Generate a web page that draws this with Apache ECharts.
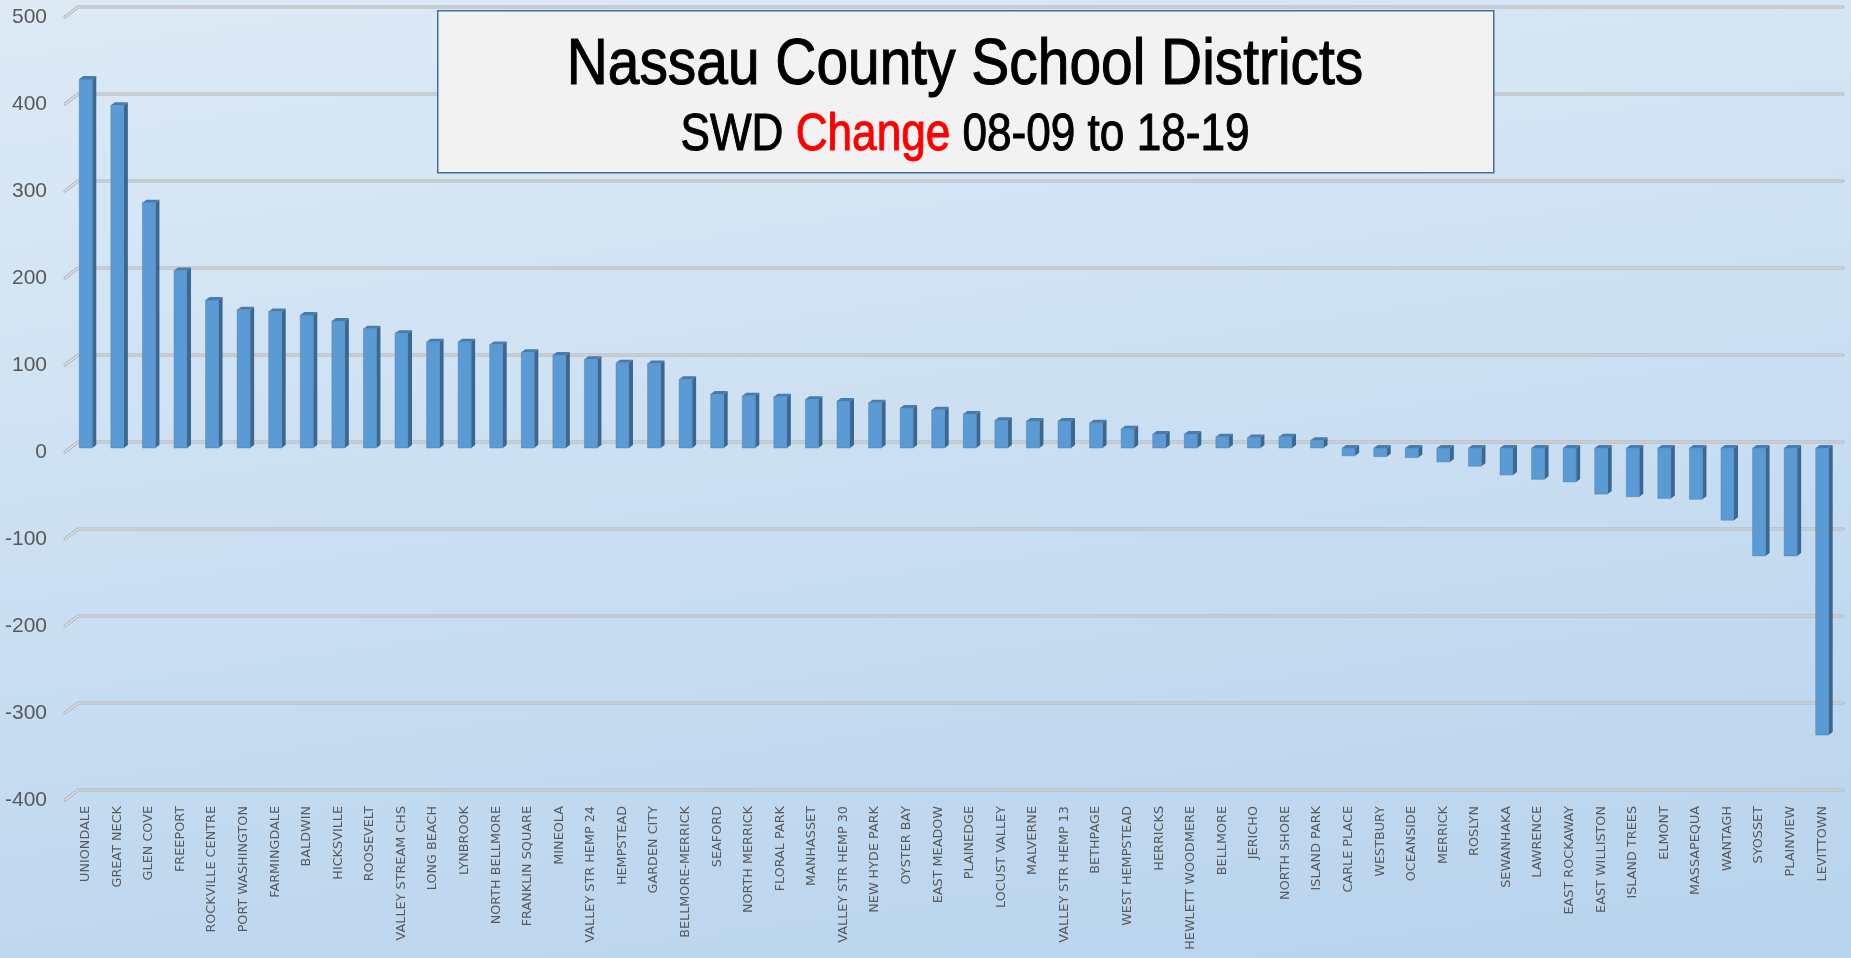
<!DOCTYPE html>
<html>
<head>
<meta charset="utf-8">
<title>Nassau County School Districts</title>
<script src="https://cdn.jsdelivr.net/npm/echarts@6/dist/echarts.min.js"></script>
<style>
html, body { margin: 0; padding: 0; }
#chart {
	width: 1851px;
	height: 958px;
	background: linear-gradient(172deg, #DDEAF6 0%, #CCE0F2 45%, #B7D3ED 100%);
}
</style>
</head>
<body>
<div id="chart"></div>
<script>
// districts, sorted by change
var districts = ['UNIONDALE', 'GREAT NECK', 'GLEN COVE', 'FREEPORT', 'ROCKVILLE CENTRE', 'PORT WASHINGTON',
	'FARMINGDALE', 'BALDWIN', 'HICKSVILLE', 'ROOSEVELT', 'VALLEY STREAM CHS', 'LONG BEACH', 'LYNBROOK',
	'NORTH BELLMORE', 'FRANKLIN SQUARE', 'MINEOLA', 'VALLEY STR HEMP 24', 'HEMPSTEAD', 'GARDEN CITY',
	'BELLMORE-MERRICK', 'SEAFORD', 'NORTH MERRICK', 'FLORAL PARK', 'MANHASSET', 'VALLEY STR HEMP 30',
	'NEW HYDE PARK', 'OYSTER BAY', 'EAST MEADOW', 'PLAINEDGE', 'LOCUST VALLEY', 'MALVERNE',
	'VALLEY STR HEMP 13', 'BETHPAGE', 'WEST HEMPSTEAD', 'HERRICKS', 'HEWLETT WOODMERE', 'BELLMORE',
	'JERICHO', 'NORTH SHORE', 'ISLAND PARK', 'CARLE PLACE', 'WESTBURY', 'OCEANSIDE', 'MERRICK', 'ROSLYN',
	'SEWANHAKA', 'LAWRENCE', 'EAST ROCKAWAY', 'EAST WILLISTON', 'ISLAND TREES', 'ELMONT', 'MASSAPEQUA',
	'WANTAGH', 'SYOSSET', 'PLAINVIEW', 'LEVITTOWN'];
// SWD change 08-09 to 18-19
var swdChange = [424, 394, 282, 204, 170, 159, 157, 153, 146, 137, 132, 122, 122,
	119, 110, 107, 102, 98, 97,
	79, 62, 60, 59, 56, 54,
	52, 46, 44, 39, 32, 31,
	31, 29, 22, 16, 16, 13,
	12, 13, 9, -9, -10, -11, -16, -21,
	-31, -36, -39, -53, -56, -58, -59,
	-83, -124, -124, -330];
var yTicks = [500, 400, 300, 200, 100, 0, -100, -200, -300, -400];

var myChart = echarts.init(document.getElementById('chart'))

var barData = [];
for(var i = 0; i < districts.length; i++) {
	barData.push([i, swdChange[i]])
}
var gridData = [];
for(var k = 0; k < yTicks.length; k++) {
	gridData.push([0, yTicks[k]])
}

// 3d-ish column: front face + right side + top cap
function renderBar(params, api) {
	var base = api.coord([api.value(0), 0]);
	var end = api.coord([api.value(0), api.value(1)]);
	var w = 13, d = 4, h = 3;
	var l = base[0] - w / 2, r = base[0] + w / 2;
	var top = Math.min(base[1], end[1]), bot = Math.max(base[1], end[1]);
	return {
		type: 'group',
		children: [{
			type: 'polygon',
			shape: { points: [[r, top], [r + d, top - h], [r + d, bot - h], [r, bot]] },
			style: { fill: '#3B6892' }
		}, {
			type: 'polygon',
			shape: { points: [[l, top], [l + d, top - h], [r + d, top - h], [r, top]] },
			style: { fill: '#477CAE' }
		}, {
			type: 'rect',
			shape: { x: l, y: top, width: w, height: bot - top },
			style: { fill: '#5B9BD5', stroke: 'rgba(80,120,160,0.55)', lineWidth: 0.8 }
		}]
	};
}

// gridlines on the back wall, with the slanted floor edge at the left
function renderGridLine(params, api) {
	var y = api.coord([0, api.value(1)])[1];
	var x0 = params.coordSys.x;
	var x1 = x0 + params.coordSys.width + 5;
	var pts = [[x0 - 5, y + 4], [x0 + 8, y - 6], [x1, y - 6]];
	return {
		type: 'group',
		children: [{
			type: 'polyline',
			shape: { points: pts },
			style: { stroke: '#ADB2B7', lineWidth: 3, fill: null, lineCap: 'round', lineJoin: 'round' }
		}, {
			type: 'polyline',
			shape: { points: pts },
			style: { stroke: '#E6E8EA', lineWidth: 1.2, fill: null, lineCap: 'round', lineJoin: 'round' }
		}]
	};
}

var option = {
	backgroundColor: 'transparent',
	animation: false,
	grid: {
		left: 70,
		right: 13,
		top: 13,
		bottom: 162
	},
	xAxis: {
		type: 'category',
		data: districts,
		axisLine: { show: false },
		axisTick: { show: false },
		splitLine: { show: false },
		axisLabel: {
			interval: 0,
			rotate: 90,
			margin: 10,
			color: '#595959',
			fontFamily: 'DejaVu Sans',
			fontSize: 12.8
		}
	},
	yAxis: {
		type: 'value',
		min: -400,
		max: 500,
		interval: 100,
		axisLine: { show: false },
		axisTick: { show: false },
		splitLine: { show: false },
		axisLabel: {
			margin: 23,
			verticalAlign: 'top',
			lineHeight: 8,
			color: '#595959',
			fontFamily: 'Liberation Sans',
			fontSize: 21
		}
	},
	series: [{
		name: 'grid',
		type: 'custom',
		renderItem: renderGridLine,
		data: gridData,
		encode: { x: 0, y: 1 },
		silent: true,
		z: 1
	}, {
		name: 'SWD Change',
		type: 'custom',
		renderItem: renderBar,
		data: barData,
		encode: { x: 0, y: 1 },
		z: 2
	}],
	graphic: [{
		type: 'rect',
		left: 437,
		top: 10,
		shape: { width: 1056, height: 162 },
		style: { fill: '#F2F2F2', stroke: '#41719C', lineWidth: 1.5 },
		z: 10
	}, {
		type: 'text',
		x: 965,
		y: 66,
		scaleX: 0.875,
		style: {
			text: 'Nassau County School Districts',
			fill: '#000',
			stroke: '#000',
			lineWidth: 1.1,
			font: '65px "Liberation Sans"',
			align: 'center',
			verticalAlign: 'middle'
		},
		z: 11
	}, {
		type: 'text',
		x: 965,
		y: 136,
		scaleX: 0.865,
		style: {
			text: '{b|SWD }{r|Change}{b| 08-09 to 18-19}',
			align: 'center',
			verticalAlign: 'middle',
			rich: {
				b: { fill: '#000', stroke: '#000', lineWidth: 1, fontSize: 51, fontFamily: 'Liberation Sans' },
				r: { fill: '#FF0000', stroke: '#FF0000', lineWidth: 1, fontSize: 51, fontFamily: 'Liberation Sans' }
			}
		},
		z: 11
	}]
};
myChart.setOption(option);
</script>
</body>
</html>
